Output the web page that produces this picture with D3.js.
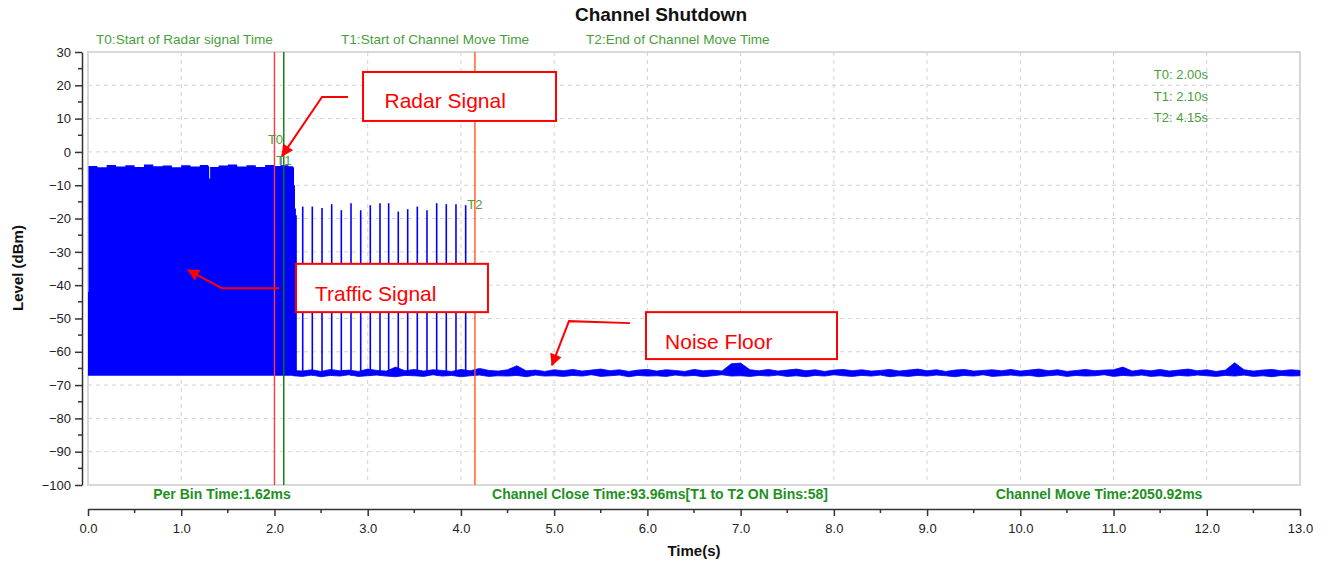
<!DOCTYPE html>
<html>
<head>
<meta charset="utf-8">
<script src="https://cdn.jsdelivr.net/npm/d3@7"></script>
<style>
  body { margin: 0; background: #fff; }
  text { font-family: "Liberation Sans", Arial, sans-serif; }
</style>
</head>
<body>
<svg id="chart" width="1328" height="564"></svg>
<script>
const xTicks = [0, 1, 2, 3, 4, 5, 6, 7, 8, 9, 10, 11, 12, 13];
const yTicks = [30, 20, 10, 0, -10, -20, -30, -40, -50, -60, -70, -80, -90, -100];

const markerNames = ['T0', 'T1', 'T2'];
const markerTimes = [2.00, 2.10, 4.15];
const markerTitles = ['T0:Start of Radar signal Time', 'T1:Start of Channel Move Time', 'T2:End of Channel Move Time'];
const infoTexts = ['Per Bin Time:1.62ms', 'Channel Close Time:93.96ms[T1 to T2 ON Bins:58]', 'Channel Move Time:2050.92ms'];

// dense traffic burst before the move: top envelope (dBm)
const floorLevel = -67.2;
const burstTimes = [0.0, 0.005, 0.1, 0.2, 0.3, 0.4, 0.5, 0.6, 0.7, 0.8, 0.9, 1.0, 1.1, 1.2, 1.29, 1.3, 1.31,
  1.4, 1.5, 1.6, 1.7, 1.8, 1.9, 2.0, 2.065, 2.075, 2.15, 2.2, 2.21, 2.22, 2.23, 2.24];
const burstTops = [-42, -4.2, -4.6, -3.9, -4.4, -4.0, -4.5, -3.8, -4.3, -4.1, -4.6, -4.0, -4.4, -3.9, -4.3, -8.0, -4.5,
  -4.1, -3.8, -4.4, -4.0, -4.5, -3.9, -4.2, -1.5, -4.0, -4.3, -4.6, -10, -17, -19, -66];

// traffic pulses between T1 and T2
const pulseTimes = [2.303, 2.406, 2.51, 2.614, 2.717, 2.821, 2.925, 3.028, 3.132, 3.225, 3.328, 3.429,
  3.532, 3.636, 3.74, 3.843, 3.947, 4.051];
const pulseTops = [-16.4, -16.4, -16.8, -15.7, -17.5, -15.4, -17.5, -16.0, -15.4, -15.4, -17.9, -17.2,
  -16.4, -17.5, -15.4, -15.7, -15.7, -16.0];

// noise floor, 2.2 s .. 13.0 s every 0.1 s
const noiseStart = 2.2, noiseStep = 0.1;
const noiseHi = [
  -65.6, -65.8, -65.4, -65.9, -65.3, -65.7, -65.5, -65.9, -65.2, -65.6,
  -65.8, -64.6, -65.7, -65.3, -65.8, -65.4, -65.6, -65.9, -65.3, -65.7,
  -65.0, -65.6, -65.8, -65.4, -64.2, -65.7, -65.5, -65.9, -65.4, -65.7,
  -65.3, -65.8, -65.5, -65.2, -65.7, -65.4, -65.9, -65.5, -65.3, -65.8,
  -65.4, -65.6, -65.9, -65.3, -65.7, -65.5, -65.8, -63.6, -63.4, -65.4,
  -65.7, -65.3, -65.8, -65.5, -65.2, -65.7, -65.4, -65.9, -65.5, -65.3,
  -65.7, -65.4, -65.8, -65.6, -65.3, -65.8, -65.5, -65.2, -65.7, -65.4,
  -65.9, -65.5, -65.3, -65.8, -65.6, -65.4, -65.7, -65.3, -65.8, -65.5,
  -65.2, -65.7, -65.4, -65.9, -65.6, -65.3, -65.7, -65.5, -65.4, -64.6,
  -65.8, -65.4, -65.7, -65.3, -65.8, -65.5, -65.2, -65.7, -65.4, -65.9,
  -65.5, -63.3, -65.4, -65.8, -65.5, -65.3, -65.7, -65.4, -65.6];
const noiseLo = [
  -67.2, -67.4, -67.0, -67.5, -67.1, -67.3, -66.9, -67.4, -67.2, -67.0,
  -67.3, -67.5, -67.1, -67.2, -67.4, -66.9, -67.3, -67.1, -67.5, -67.2,
  -67.0, -67.4, -67.2, -67.3, -67.1, -67.5, -67.0, -67.3, -67.2, -67.4,
  -67.1, -67.3, -66.9, -67.4, -67.2, -67.0, -67.5, -67.1, -67.3, -67.2,
  -67.4, -67.0, -67.3, -67.1, -67.5, -67.2, -66.9, -67.3, -67.2, -67.4,
  -67.1, -67.3, -67.0, -67.4, -67.2, -67.5, -67.1, -67.3, -66.9, -67.2,
  -67.4, -67.1, -67.3, -67.0, -67.5, -67.2, -67.4, -67.1, -67.3, -67.0,
  -67.2, -67.5, -67.1, -67.3, -66.9, -67.4, -67.2, -67.0, -67.3, -67.1,
  -67.5, -67.2, -67.0, -67.4, -67.1, -67.3, -67.2, -66.9, -67.4, -67.1,
  -67.3, -67.0, -67.4, -67.2, -67.5, -67.1, -67.3, -67.0, -67.2, -67.4,
  -67.1, -67.3, -67.0, -67.4, -67.2, -67.5, -67.1, -67.3, -67.2];

// callouts (placed in data units)
const calloutTexts = ['Radar Signal', 'Traffic Signal', 'Noise Floor'];

// ---- drawing ----
const svg = d3.select('#chart');
const x = d3.scaleLinear().domain([0, 13]).range([88, 1300]);
const y = d3.scaleLinear().domain([-100, 30]).range([485, 52]);

const green = '#4a9e3c';
const darkGreen = '#1f8f1f';
const blue = '#0000ff';

svg.append('text')
  .attr('x', 661).attr('y', 20.5)
  .attr('text-anchor', 'middle')
  .style('font-size', '19px').style('font-weight', 'bold').style('fill', '#111')
  .text('Channel Shutdown');

// plot frame
svg.append('rect')
  .attr('x', x(0)).attr('y', y(30))
  .attr('width', x(13) - x(0)).attr('height', y(-100) - y(30))
  .style('fill', '#fff').style('stroke', '#d8d8d8').style('stroke-width', 2);

// dashed grid
svg.append('g').selectAll('line')
  .data(xTicks.slice(1, -1))
  .enter().append('line')
  .attr('x1', d => x(d)).attr('x2', d => x(d))
  .attr('y1', y(30)).attr('y2', y(-100))
  .style('stroke', '#d2d2d2').style('stroke-dasharray', '4,4');

svg.append('g').selectAll('line')
  .data(yTicks.slice(1, -1))
  .enter().append('line')
  .attr('x1', x(0)).attr('x2', x(13))
  .attr('y1', d => y(d)).attr('y2', d => y(d))
  .style('stroke', '#d2d2d2').style('stroke-dasharray', '4,4');

// traffic burst
const burst = burstTimes.map((t, i) => ({ t, v: burstTops[i] }));
svg.append('path')
  .datum(burst)
  .attr('d', d3.area().curve(d3.curveStepAfter)
    .x(d => x(d.t)).y0(y(floorLevel)).y1(d => y(d.v)))
  .style('fill', blue);

// noise floor band
const noise = noiseHi.map((v, i) => ({ t: noiseStart + i * noiseStep, hi: v, lo: noiseLo[i] }));
svg.append('path')
  .datum(noise)
  .attr('d', d3.area().x(d => x(d.t)).y0(d => y(d.lo)).y1(d => y(d.hi)))
  .style('fill', blue).style('stroke', blue).style('stroke-width', 0.8);

// pulses
svg.append('g').selectAll('line')
  .data(pulseTimes)
  .enter().append('line')
  .attr('x1', d => x(d)).attr('x2', d => x(d))
  .attr('y1', y(floorLevel)).attr('y2', (d, i) => y(pulseTops[i]))
  .style('stroke', blue).style('stroke-width', 1.6);

// marker lines
const markerColors = ['#ff3b3b', '#0a7a0a', '#ff5a1a'];
svg.append('g').selectAll('line')
  .data(markerTimes)
  .enter().append('line')
  .attr('x1', d => x(d)).attr('x2', d => x(d))
  .attr('y1', y(30)).attr('y2', y(-100))
  .style('stroke', (d, i) => markerColors[i]).style('stroke-width', 1.4);

// marker tags near the trace
const tagLevels = [2.5, -3.8, -17.2];
const tagDx = [1, 0, 0];
svg.append('g').selectAll('text')
  .data(markerNames)
  .enter().append('text')
  .attr('x', (d, i) => x(markerTimes[i]) + tagDx[i])
  .attr('y', (d, i) => y(tagLevels[i]))
  .attr('text-anchor', 'middle')
  .style('font-size', '13px').style('fill', green)
  .text(d => d);

// marker titles above the plot
const titleX = [96, 341, 586];
svg.append('g').selectAll('text')
  .data(markerTitles)
  .enter().append('text')
  .attr('x', (d, i) => titleX[i]).attr('y', 43.5)
  .style('font-size', '13.6px').style('fill', green)
  .text(d => d);

// marker values top right
svg.append('g').selectAll('text')
  .data(markerNames)
  .enter().append('text')
  .attr('x', 1208).attr('y', (d, i) => 79 + i * 21.7)
  .attr('text-anchor', 'end')
  .style('font-size', '13px').style('fill', green)
  .text((d, i) => d + ': ' + markerTimes[i].toFixed(2) + 's');

// info line under the plot
const infoX = [222, 660, 1099];
svg.append('g').selectAll('text')
  .data(infoTexts)
  .enter().append('text')
  .attr('x', (d, i) => infoX[i]).attr('y', 499)
  .attr('text-anchor', 'middle')
  .style('font-size', '14px').style('font-weight', 'bold').style('fill', darkGreen)
  .text(d => d);

// axes
const yAxis = svg.append('g')
  .attr('transform', 'translate(82,0)')
  .call(d3.axisLeft(y).tickValues(yTicks).tickSize(7).tickSizeOuter(0).tickPadding(4));
yAxis.append('g').selectAll('line')
  .data(yTicks.slice(0, -1).map(d => d - 5))
  .enter().append('line')
  .attr('x1', 0).attr('x2', -4)
  .attr('y1', d => y(d)).attr('y2', d => y(d));

const xAxis = svg.append('g')
  .attr('transform', 'translate(0,509)')
  .call(d3.axisBottom(x).tickValues(xTicks).tickFormat(d3.format('.1f'))
    .tickSize(7).tickSizeOuter(0).tickPadding(8));
xAxis.append('g').selectAll('line')
  .data(xTicks.slice(0, -1).map(d => d + 0.5))
  .enter().append('line')
  .attr('x1', d => x(d)).attr('x2', d => x(d))
  .attr('y1', 0).attr('y2', 4);

[yAxis, xAxis].forEach(a => {
  a.selectAll('path, line').style('stroke', '#333').style('stroke-width', 1.5);
  a.selectAll('text').style('font-size', '13px').style('fill', '#222')
    .style('font-family', '"Liberation Sans", Arial, sans-serif');
});

svg.append('text')
  .attr('x', 694).attr('y', 556)
  .attr('text-anchor', 'middle')
  .style('font-size', '15px').style('font-weight', 'bold').style('fill', '#111')
  .text('Time(s)');

svg.append('text')
  .attr('transform', 'translate(23,268) rotate(-90)')
  .attr('text-anchor', 'middle')
  .style('font-size', '15px').style('font-weight', 'bold').style('fill', '#111')
  .text('Level (dBm)');

// callouts: box [t0, t1, top, bottom], text anchor [t, level], arrow path points
const calloutBoxes = [[2.95, 5.02, 24.0, 9.3], [2.231, 4.29, -33.6, -48.1], [5.985, 8.034, -48.1, -62.2]];
const calloutTextPos = [[3.18, 15.3], [2.435, -42.4], [6.19, -56.8]];
const calloutArrows = [
  [[2.789, 16.5], [2.51, 16.5], [2.081, -1.2]],
  [[2.049, -40.9], [1.437, -40.9], [1.073, -35.5]],
  [[5.814, -51.4], [5.159, -50.8], [4.977, -64.0]]
];

svg.append('defs').append('marker')
  .attr('id', 'head')
  .attr('viewBox', '0 0 10 10')
  .attr('refX', 9).attr('refY', 5)
  .attr('markerWidth', 14).attr('markerHeight', 12)
  .attr('markerUnits', 'userSpaceOnUse')
  .attr('orient', 'auto')
  .append('path').attr('d', 'M0,0 L10,5 L0,10 z').style('fill', '#ff0000');

const callouts = svg.append('g').selectAll('g')
  .data(calloutTexts)
  .enter().append('g');

callouts.append('rect')
  .attr('x', (d, i) => x(calloutBoxes[i][0]))
  .attr('y', (d, i) => y(calloutBoxes[i][2]))
  .attr('width', (d, i) => x(calloutBoxes[i][1]) - x(calloutBoxes[i][0]))
  .attr('height', (d, i) => y(calloutBoxes[i][3]) - y(calloutBoxes[i][2]))
  .style('fill', '#fff').style('stroke', '#ff0000').style('stroke-width', 2);

callouts.append('text')
  .attr('x', (d, i) => x(calloutTextPos[i][0]))
  .attr('y', (d, i) => y(calloutTextPos[i][1]) + 7.5)
  .style('font-size', '21px').style('fill', '#ff0000')
  .text(d => d);

callouts.append('path')
  .attr('d', (d, i) => d3.line().x(p => x(p[0])).y(p => y(p[1]))(calloutArrows[i]))
  .style('fill', 'none').style('stroke', '#ff0000').style('stroke-width', 2)
  .attr('marker-end', 'url(#head)');
</script>
</body>
</html>
